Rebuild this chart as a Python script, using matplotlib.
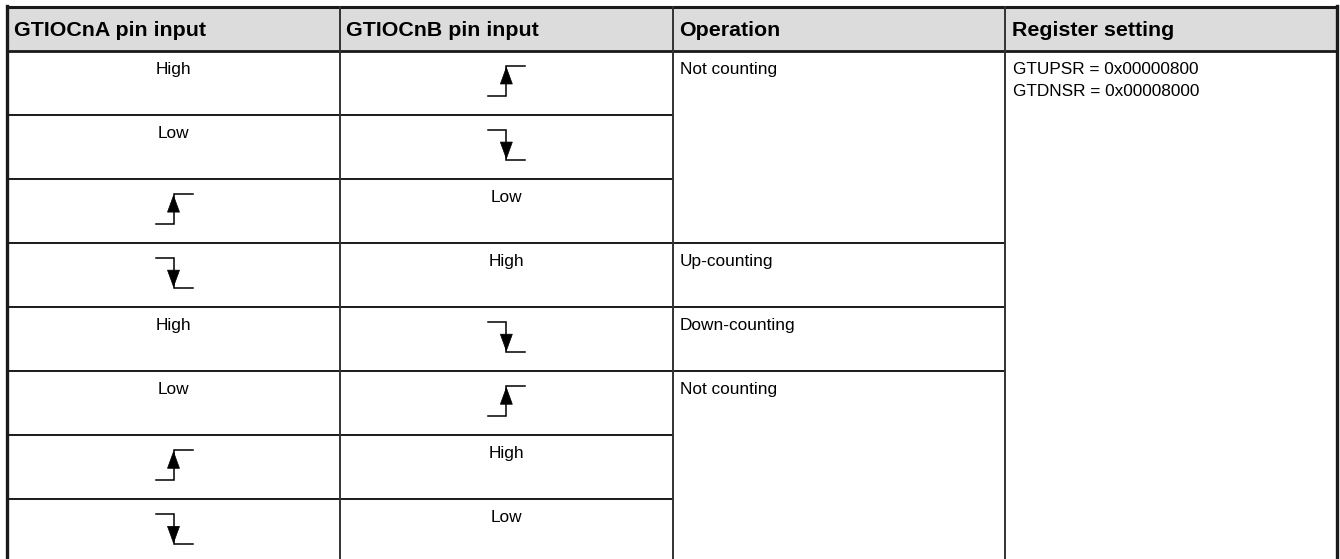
import matplotlib.pyplot as plt
from matplotlib.patches import Rectangle, Polygon

plt.rcParams['font.family'] = ['Liberation Sans', 'DejaVu Sans']

# table content
col_headers = ["GTIOCnA pin input", "GTIOCnB pin input", "Operation", "Register setting"]
pin_a = ["High", "Low", "rise", "fall", "High", "Low", "rise", "fall"]
pin_b = ["rise", "fall", "Low", "High", "fall", "rise", "High", "Low"]
# operation text, first row, number of rows merged
operation = [("Not counting", 0, 3), ("Up-counting", 3, 1),
             ("Down-counting", 4, 1), ("Not counting", 5, 3)]
register = ["GTUPSR = 0x00000800", "GTDNSR = 0x00008000"]

# layout (pixels)
col_x = [7, 340, 672.7, 1005, 1337]
top_y = 6.5
head_y = 51
row_h = 64.05
n_rows = len(pin_a)
row_y = [head_y + i * row_h for i in range(n_rows + 1)]

fig = plt.figure(figsize=(13.4, 5.59), dpi=100)
ax = fig.add_axes([0, 0, 1, 1])
ax.set_xlim(0, 1340)
ax.set_ylim(559, 0)
ax.axis('off')

line_col = '#1a1a1a'
lw_mid = 1.4

# header background
ax.add_patch(Rectangle((col_x[0], top_y), col_x[-1] - col_x[0], head_y - top_y,
                       facecolor='#dcdcdc', edgecolor='none', zorder=0))

body_fs = 12.4
head_fs = 15.4


def draw_edge(cx, rtop, kind):
    yt = rtop + 15
    yb = rtop + 45
    if kind == "rise":
        ax.plot([cx - 18, cx, cx, cx + 19], [yb, yb, yt, yt], color='black', lw=1.1,
                solid_joinstyle='miter')
        tri = [(cx, yt + 1.5), (cx - 6, yt + 18), (cx + 6, yt + 18)]
    else:
        ax.plot([cx - 18, cx, cx, cx + 19], [yt, yt, yb, yb], color='black', lw=1.1,
                solid_joinstyle='miter')
        tri = [(cx, yb - 1.5), (cx - 6, yb - 18), (cx + 6, yb - 18)]
    ax.add_patch(Polygon(tri, closed=True, facecolor='black', edgecolor='black', lw=0.5))


def draw_cell(val, col, r):
    cx = (col_x[col] + col_x[col + 1]) / 2
    rtop = row_y[r]
    if val in ("rise", "fall"):
        draw_edge(cx, rtop, val)
    else:
        ax.text(cx, rtop + 23, val, ha='center', va='baseline', fontsize=body_fs)


# headers
for i, h in enumerate(col_headers):
    ax.text(col_x[i] + 6.5, 36, h, ha='left', va='baseline', fontsize=head_fs,
            fontweight='bold')

for r in range(n_rows):
    draw_cell(pin_a[r], 0, r)
    draw_cell(pin_b[r], 1, r)

for txt, start, span in operation:
    ax.text(col_x[2] + 7, row_y[start] + 23, txt, ha='left', va='baseline', fontsize=body_fs)

for k, txt in enumerate(register):
    ax.text(col_x[3] + 8, row_y[0] + 23 + k * 22, txt, ha='left', va='baseline',
            fontsize=body_fs)

# horizontal lines
ax.plot([col_x[0], col_x[-1]], [top_y, top_y], color=line_col, lw=2.2)
ax.plot([col_x[0], col_x[-1]], [head_y, head_y], color=line_col, lw=2.0)
group_ends = [start + span for _, start, span in operation]
for r in range(1, n_rows + 1):
    y = row_y[r]
    x_end = col_x[3] if r in group_ends else col_x[2]
    ax.plot([col_x[0], x_end], [y, y], color=line_col, lw=lw_mid)

# vertical lines
ax.plot([col_x[0], col_x[0]], [top_y - 1, row_y[-1]], color=line_col, lw=2.4)
ax.plot([col_x[-1], col_x[-1]], [top_y - 1, row_y[-1]], color=line_col, lw=2.4)
for x in col_x[1:-1]:
    ax.plot([x, x], [top_y, row_y[-1]], color='#333333', lw=lw_mid)

fig.savefig('out.png', dpi=100)
